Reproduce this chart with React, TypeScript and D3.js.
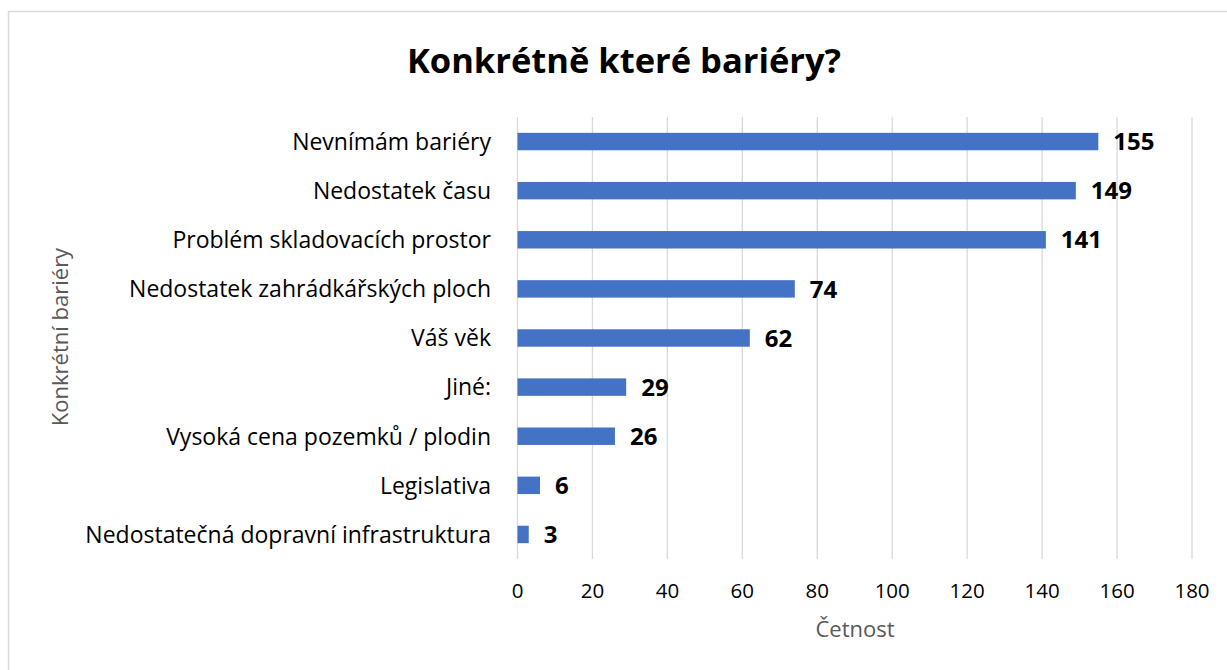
import React from 'react';
import * as d3 from 'd3';

const categories = [
  'Nevnímám bariéry',
  'Nedostatek času',
  'Problém skladovacích prostor',
  'Nedostatek zahrádkářských ploch',
  'Váš věk',
  'Jiné:',
  'Vysoká cena pozemků / plodin',
  'Legislativa',
  'Nedostatečná dopravní infrastruktura',
];
const counts = [155, 149, 141, 74, 62, 29, 26, 6, 3];
const xTicks = [0, 20, 40, 60, 80, 100, 120, 140, 160, 180];

const W = 1227;
const H = 670;
const font = '"Open Sans", sans-serif';

const App = () => {
  const x = d3.scaleLinear().domain([0, 180]).range([517.5, 1192]);
  const y = d3.scaleBand<string>()
    .domain(categories)
    .range([117, 559])
    .paddingInner(0.645)
    .paddingOuter(0.3225);

  return (
    <div style={{ position: 'absolute', left: 0, top: 0 }}>
      <svg width={W} height={H} style={{ display: 'block', fontFamily: font }}>
        <rect x={0} y={0} width={W} height={H} fill="#fff" />
        <rect x={8.5} y={11.5} width={W + 10} height={H + 10} fill="none" stroke="#d9d9d9" strokeWidth={1.5} />

        <text x={624} y={73} textAnchor="middle" fontSize={34.5} fontWeight="bold" fill="#000">
          Konkrétně které bariéry?
        </text>

        {/* gridlines */}
        {xTicks.map(t => (
          <line key={'g' + t} x1={x(t)} x2={x(t)} y1={117} y2={559} stroke="#d9d9d9" strokeWidth={1.3} />
        ))}

        {/* bars */}
        {categories.map((c, i) => (
          <rect key={c} x={x(0)} y={y(c)} width={x(counts[i]) - x(0)} height={y.bandwidth()} fill="#4472C4" />
        ))}

        {/* data labels */}
        {categories.map((c, i) => (
          <text key={'v' + c} x={x(counts[i]) + 15} y={(y(c) as number) + y.bandwidth() / 2} dy="0.36em"
            fontSize={24} fontWeight="bold" fill="#000">
            {counts[i]}
          </text>
        ))}

        {/* category labels */}
        {categories.map(c => (
          <text key={'c' + c} x={491} y={(y(c) as number) + y.bandwidth() / 2} dy="0.36em"
            textAnchor="end" fontSize={23} fill="#000">
            {c}
          </text>
        ))}

        {/* x tick labels */}
        {xTicks.map(t => (
          <text key={'t' + t} x={x(t)} y={598} textAnchor="middle" fontSize={20.5} fill="#000">
            {t}
          </text>
        ))}

        <text x={855} y={637} textAnchor="middle" fontSize={22} fill="#595959">Četnost</text>
        <text transform="translate(68,337) rotate(-90)" textAnchor="middle" fontSize={22} fill="#595959">
          Konkrétní bariéry
        </text>
      </svg>
    </div>
  );
};

export default App;
